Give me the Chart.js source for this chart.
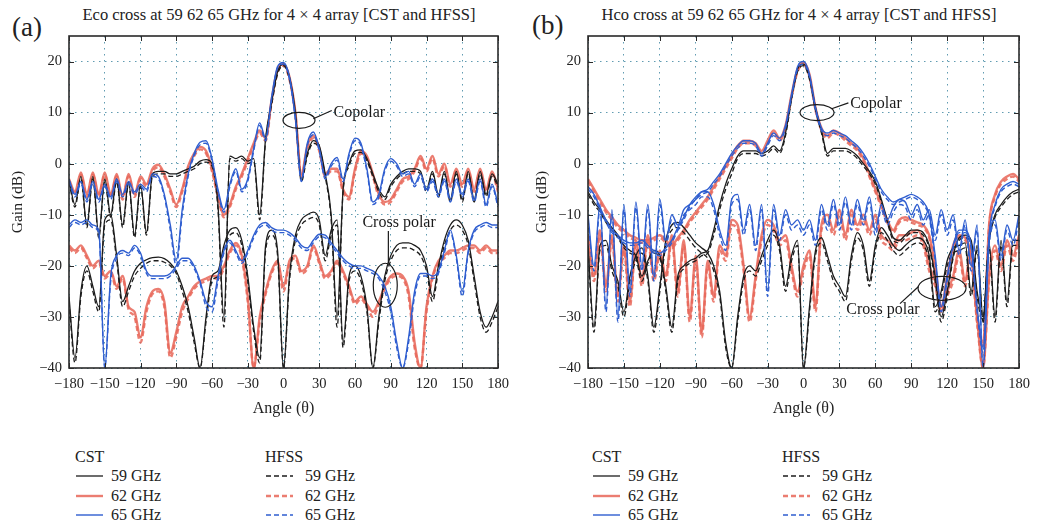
<!DOCTYPE html>
<html>
<head>
<meta charset="utf-8">
<script src="https://cdn.jsdelivr.net/npm/chart.js@4.4.0/dist/chart.umd.min.js"></script>
<style>
  body { margin: 0; background: #fff; width: 1037px; height: 527px; position: relative; overflow: hidden;
         font-family: "Liberation Serif", "DejaVu Serif", serif; color: #222; }
  canvas { position: absolute; top: 0; }
  .title { position: absolute; top: 5px; font-size: 16.5px; white-space: nowrap; transform: translateX(-50%); }
  .tag { position: absolute; font-size: 27px; }
  .lg { position: absolute; font-size: 16px; line-height: 18px; white-space: nowrap; }
  .lg svg { position: absolute; top: 0; }
</style>
</head>
<body>
<div class="tag" style="left:12px;top:12px">(a)</div>
<div class="title" style="left:279px">Eco cross at 59 62 65 GHz for 4 × 4 array [CST and HFSS]</div>
<div class="tag" style="left:532px;top:10px">(b)</div>
<div class="title" style="left:799px">Hco cross at 59 62 65 GHz for 4 × 4 array [CST and HFSS]</div>

<canvas id="chartA" width="518" height="430" style="left:0"></canvas>
<canvas id="chartB" width="517" height="430" style="left:520px"></canvas>

<div id="legendA"></div>
<div id="legendB"></div>

<script>
const ANGLES = [-180, -175, -170, -165, -160, -155, -150, -145, -140, -135,
  -130, -125, -120, -115, -110, -105, -100, -95, -90, -85,
  -80, -75, -70, -65, -60, -55, -50, -45, -40, -35,
  -30, -25, -20, -15, -10, -5, 0, 5, 10, 15,
  20, 25, 30, 35, 40, 45, 50, 55, 60, 65,
  70, 75, 80, 85, 90, 95, 100, 105, 110, 115,
  120, 125, 130, 135, 140, 145, 150, 155, 160, 165,
  170, 175, 180]
const X_TICKS = [-180, -150, -120, -90, -60, -30, 0, 30, 60, 90, 120, 150, 180]
const Y_TICKS = [-40, -30, -20, -10, 0, 10, 20]
const FREQS = ['59 GHz', '62 GHz', '65 GHz']

// (a) Eco, CST
const A_CO59 = [-3, -8, -2.5, -12, -2.5, -14, -3, -10, -3, -12,
  -3.5, -14, -4, -13.5, -2, -1.5, -1.5, -2, -2, -1.5,
  -1, -0.5, 0.5, 0.8, 0, -8, -30, 1.5, 1, 1.5,
  0.5, 1, -10, 5, 12, 18, 19.5, 17, 10, -3,
  2, 4.5, 3.5, -2, -10, -30, -5, 0, 2.5, 2.7,
  1, -2, -5, -6.5, -4, -2.5, -1.5, -1, -1, -1.5,
  -5, -1.5, -6, -1.5, -7, -1.5, -7, -1.5, -7, -1.5,
  -6, -2, -4]
const A_CO62 = [-3, -5.5, -1.7, -6, -1.7, -6, -1.7, -6, -2, -6.5,
  -2, -6, -2.5, -4, -1, -0.2, -2, -5, -8, -5,
  -0.5, 2, 3.3, 2.5, -1, -6, -10, -8, -4.5, -2,
  1, 4, 6.5, 5, 12.5, 18.5, 19.5, 17, 10, -2,
  3.5, 5.5, 3, -2, -1, -1, -5, -6.5, -1, 2.5,
  1.5, -2, -6, -7.5, -7, -5, -3, -2.5, -1, 1.5,
  -1, 1.5, -2, 0, -4, -1, -4, -1, -5, -1,
  -5, -1.5, -5]
const A_CO65 = [-3, -6, -3.5, -7, -3.5, -7, -4, -6.5, -3, -6,
  -3.5, -5.5, -4, -5, -2, -2.5, -6, -12, -19, -9,
  -2, 2, 4.2, 4.5, 1, -5, -9, -4, -1, -5,
  -3, 3, 8, 5, 13, 19, 19.8, 17, 9, -3,
  4, 6.2, 3, -2.5, 0, 1.2, -3, 2, 5, 4,
  -1, -7.5, -6, -1, 1, 0, -2, -1.5, -4, -2,
  -5, -3, -6, -3, -7, -3, -6, -3, -7, -3,
  -8, -4, -8]
const A_X59 = [-26, -38, -25, -20, -24, -28, -11, -10, -18, -27,
  -24, -21, -19.5, -18.8, -18.4, -18.3, -18.6, -19.5, -21, -24,
  -28, -34, -40, -30, -22, -21, -16, -13, -12.5, -15,
  -22, -32, -38, -16, -13, -17, -40, -22, -14, -11,
  -10, -9.5, -11, -18, -13, -11, -35, -22, -20, -22,
  -28, -40, -30, -22, -18, -16, -15.5, -15.5, -16, -17,
  -20, -26, -20, -15, -12, -11, -12, -15, -22, -29,
  -32, -30, -27]
const A_X62 = [-16, -17, -16, -18, -20, -19, -22, -21, -24, -22,
  -28, -29, -34, -28, -25, -24.5, -27, -37, -33, -28,
  -26, -24, -23, -22.5, -22, -22, -20, -17, -15.5, -18,
  -26, -40, -30, -25, -21, -19, -24, -19, -18, -21,
  -20, -16, -19, -22, -21, -19, -21, -24, -27, -26,
  -27.5, -29, -27, -24, -22, -21.5, -22, -25, -35, -40,
  -28, -22, -19, -18, -17, -17, -16.5, -16, -16, -17,
  -16, -17, -17]
const A_X65 = [-12, -11, -11.5, -11, -12, -13, -40, -22, -18, -17,
  -17.5, -16, -17.5, -21, -22, -22, -22, -21.5, -20, -18.5,
  -18.5, -20, -23, -27, -28, -22, -17, -15, -17, -19,
  -17, -14, -12, -11.5, -12.5, -13, -13, -13.5, -14.5, -16,
  -16.5, -15, -13.8, -14, -15.5, -17, -18.5, -19.5, -20, -20,
  -20.5, -21, -22, -24, -28, -35, -40, -34, -25, -21.5,
  -21.5, -22, -21, -17, -13, -18, -25, -17, -13, -12,
  -11.5, -12, -12]

// (a) Eco, HFSS
const A_H59CO = [-3.5, -8.5, -3, -12.5, -3, -14.5, -3.5, -10.5, -3.5, -12.5,
  -4, -14.5, -4.5, -14, -2.5, -2, -2, -2.5, -2.5, -2,
  -1.5, -1, 0, 0.3, -0.5, -9, -32, 1, 0.5, 1,
  0, 0.5, -11, 4.5, 11.5, 17.5, 19.2, 16.5, 9.5, -3.5,
  1.5, 4, 3, -2.5, -11, -32, -5.5, -0.5, 2, 2.2,
  0.5, -2.5, -5.5, -7, -4.5, -3, -2, -1.5, -1.5, -2,
  -5.5, -2, -6.5, -2, -7.5, -2, -7.5, -2, -7.5, -2,
  -6.5, -2.5, -4.5]
const A_H62CO = [-3.5, -6, -2.2, -6.5, -2.2, -6.5, -2.2, -6.5, -2.5, -7,
  -2.5, -6.5, -3, -4.5, -1.5, -0.7, -2.5, -5.5, -8.5, -5.5,
  -1, 1.5, 2.8, 2, -1.5, -6.5, -10.5, -8.5, -5, -2.5,
  0.5, 3.5, 6, 4.5, 12, 18, 19.2, 16.5, 9.5, -2.5,
  3, 5, 2.5, -2.5, -1.5, -1.5, -5.5, -7, -1.5, 2,
  1, -2.5, -6.5, -8, -7.5, -5.5, -3.5, -3, -1.5, 1,
  -1.5, 1, -2.5, -0.5, -4.5, -1.5, -4.5, -1.5, -5.5, -1.5,
  -5.5, -2, -5.5]
const A_H65CO = [-3.5, -6.5, -4, -7.5, -4, -7.5, -4.5, -7, -3.5, -6.5,
  -4, -6, -4.5, -5.5, -2.5, -3, -6.5, -13, -20, -10,
  -2.5, 1.5, 3.7, 4, 0.5, -5.5, -9.5, -4.5, -1.5, -5.5,
  -3.5, 2.5, 7.5, 4.5, 12.5, 18.7, 19.5, 16.5, 8.5, -3.5,
  3.5, 5.7, 2.5, -3, -0.5, 0.7, -3.5, 1.5, 4.5, 3.5,
  -1.5, -8, -6.5, -1.5, 0.5, -0.5, -2.5, -2, -4.5, -2.5,
  -5.5, -3.5, -6.5, -3.5, -7.5, -3.5, -6.5, -3.5, -7.5, -3.5,
  -8.5, -4.5, -8.5]
const A_H59X = [-27, -39, -26, -21, -25, -29, -12, -11, -19, -28,
  -25, -22, -20.5, -19.5, -19, -19, -19.3, -20, -21.5, -25,
  -29, -35, -40, -31, -23, -22, -17, -14, -13.5, -16,
  -23, -33, -39, -17, -14, -18, -40, -23, -15, -12,
  -11, -10.5, -12, -19, -14, -12, -36, -23, -21, -23,
  -29, -40, -31, -23, -19, -17, -16.5, -16.5, -17, -18,
  -21, -27, -21, -16, -13, -12, -13, -16, -23, -30,
  -33, -31, -28]
const A_H62X = [-16.5, -17.5, -16.5, -18.5, -20.5, -19.5, -22.5, -21.5, -24.5, -22.5,
  -28.5, -30, -35, -29, -25.5, -25, -28, -38, -34, -29,
  -26.5, -24.5, -23.5, -23, -22.5, -22.5, -20.5, -17.5, -16, -18.5,
  -27, -40, -31, -25.5, -21.5, -19.5, -25, -19.5, -18.5, -21.5,
  -20.5, -16.5, -19.5, -22.5, -21.5, -19.5, -21.5, -24.5, -27.5, -26.5,
  -28, -30, -27.5, -24.5, -22.5, -22, -22.5, -26, -36, -40,
  -29, -22.5, -19.5, -18.5, -17.5, -17.5, -17, -16.5, -16.5, -17.5,
  -16.5, -17.5, -17.5]
const A_H65X = [-12.5, -11.5, -12, -11.5, -12.5, -13.5, -40, -23, -18.5, -17.5,
  -18, -16.5, -18, -21.5, -22.5, -22.5, -22.5, -22, -20.5, -19,
  -19, -20.5, -23.5, -28, -29, -23, -17.5, -15.5, -17.5, -19.5,
  -17.5, -14.5, -12.5, -12, -13, -13.5, -13.5, -14, -15, -16.5,
  -17, -15.5, -14.3, -14.5, -16, -17.5, -19, -20, -20.5, -20.5,
  -21, -21.5, -22.5, -25, -29, -36, -40, -35, -26, -22,
  -22, -22.5, -21.5, -17.5, -13.5, -18.5, -26, -17.5, -13.5, -12.5,
  -12, -12.5, -12.5]

// (b) Hco, CST
const B_CO59 = [-5.5, -7.5, -9, -11, -12.5, -14, -16, -17, -18, -22,
  -19, -17, -18, -24, -32, -22, -20, -19, -18.5, -17.5,
  -17, -13, -8, -4, -1, 1.5, 2.5, 2.5, 2.5, 2,
  2.5, 3.5, 2.5, 6, 13, 18.5, 19.5, 17, 11, 6.5,
  2, 3, 3, 3, 2.5, 1.5, 0, -1.5, -3.5, -7,
  -11, -14.5, -15, -14, -13, -13, -13.5, -16, -22, -30,
  -25, -18, -14.5, -14, -15, -25, -30, -15, -10, -8,
  -6.5, -5.5, -5]
const B_CO62 = [-3, -5, -7, -9, -10.5, -12, -13, -14, -14.5, -15,
  -15, -14.5, -14, -15, -16, -14.5, -13, -11, -9.5, -8,
  -6.5, -4.5, -2.5, -0.5, 1.5, 3.5, 4.5, 4.5, 4, 2.5,
  4.5, 6.5, 5, 7.5, 13.5, 18.5, 19.8, 17.5, 11, 7,
  5.5, 6.5, 6, 5, 4, 3, 1, -2, -5, -8,
  -11, -13, -11, -10.5, -11, -11.5, -12, -14, -20, -28,
  -22, -16, -14, -14.5, -18, -30, -35, -12, -6, -3.5,
  -2.5, -2, -3]
const B_CO65 = [-4.5, -6, -8.5, -11, -13, -14, -15, -15.5, -15.5, -15,
  -16, -17, -17.5, -16.5, -15, -12.5, -10.5, -8, -6.5, -5.5,
  -5, -3.5, -2, 0, 2, 3.5, 4.5, 4.5, 4, 2,
  4, 6, 5, 7.5, 13.5, 19, 20, 17.5, 11, 7,
  6, 6.5, 6, 5.5, 4.5, 3.5, 2, 0, -2.5, -5,
  -6.5, -7.5, -7, -6.5, -6, -6.5, -7.5, -10, -18, -28,
  -22, -16, -13, -13, -16, -28, -36, -14, -8, -5,
  -4, -3.5, -4]
const B_X59 = [-16, -32, -16, -15, -20, -23, -29, -22, -18, -16.5,
  -22, -32, -24, -15, -12, -11.5, -12.5, -14, -15.5, -16.5,
  -17.5, -20, -25, -35, -40, -30, -22, -20, -21, -18,
  -15, -13, -16, -24, -18, -15, -40, -28, -17, -14.5,
  -18, -22, -24, -26, -18, -13.5, -16, -23, -16, -12.5,
  -14, -16, -17, -16, -15, -14.5, -15, -18, -28, -25,
  -19, -16.5, -16, -15.5, -25, -16, -30, -15.5, -30, -15,
  -27, -15, -15]
const B_X62 = [-14, -22, -13, -24, -14, -26, -16, -27, -15, -23,
  -14, -22, -17, -22, -14, -25, -15, -30, -18, -33,
  -19, -26, -16, -18, -11, -12, -20, -30, -22, -14,
  -11, -12, -15, -14, -20, -25, -20, -17, -28, -12,
  -10, -13, -9, -14, -9, -12, -10, -13, -10, -14,
  -15, -16, -14, -14, -13.5, -13, -15, -20, -23, -28,
  -25, -22, -17, -23, -16, -30, -40, -22, -16, -20,
  -15, -18, -14]
const B_X65 = [-10, -20, -8, -28, -9, -30, -8, -25, -7.5, -20,
  -8, -22, -7, -15, -10, -12, -9, -8, -7, -5.5,
  -5.5, -8, -13, -16, -7, -6, -13, -8, -16, -8,
  -25, -8, -14, -9, -12, -11, -13, -11, -15, -8,
  -12, -7, -12, -6.5, -12, -7, -11, -6.5, -13, -8,
  -11, -8.5, -7, -7.5, -10, -8, -11, -9, -14, -9,
  -13, -10, -17, -11, -20, -12, -40, -15, -11, -18,
  -12, -15, -10]

// (b) Hco, HFSS
const B_H59CO = [-6, -8, -9.5, -11.5, -13, -14.5, -16.5, -17.5, -18.5, -23,
  -19.5, -17.5, -18.5, -25, -33, -23, -20.5, -19.5, -19, -18,
  -17.5, -14, -9, -5, -2, 1, 2, 2, 2, 1.5,
  2, 3, 2, 5.5, 12.5, 18, 19.2, 16.5, 10.5, 6,
  1.5, 2.5, 2.5, 2.5, 2, 1, -0.5, -2, -4, -7.5,
  -11.5, -15, -15.5, -14.5, -13.5, -13.5, -14, -16.5, -23, -31,
  -26, -18.5, -15, -14.5, -15.5, -26, -31, -15.5, -10.5, -8.5,
  -7, -6, -5.5]
const B_H62CO = [-3.5, -5.5, -7.5, -9.5, -11, -12.5, -13.5, -14.5, -15, -15.5,
  -15.5, -15, -14.5, -15.5, -16.5, -15, -13.5, -11.5, -10, -8.5,
  -7, -5, -3, -1, 1, 3, 4, 4, 3.5, 2,
  4, 6, 4.5, 7, 13, 18, 19.3, 17, 10.5, 6.5,
  5, 6, 5.5, 4.5, 3.5, 2.5, 0.5, -2.5, -5.5, -8.5,
  -11.5, -13.5, -11.5, -11, -11.5, -12, -12.5, -14.5, -21, -29,
  -23, -16.5, -14.5, -15, -18.5, -31, -36, -12.5, -6.5, -4,
  -3, -2.5, -3.5]
const B_H65CO = [-5, -6.5, -9, -11.5, -13.5, -14.5, -15.5, -16, -16, -15.5,
  -16.5, -17.5, -18, -17, -15.5, -13, -11, -8.5, -7, -6,
  -5.5, -4, -2.5, -0.5, 1.5, 3, 4, 4, 3.5, 1.5,
  3.5, 5.5, 4.5, 7, 13, 18.5, 19.5, 17, 10.5, 6.5,
  5.5, 6, 5.5, 5, 4, 3, 1.5, -0.5, -3, -5.5,
  -7, -8, -7.5, -7, -6.5, -7, -8, -10.5, -19, -29,
  -23, -16.5, -13.5, -13.5, -16.5, -29, -37, -14.5, -8.5, -5.5,
  -4.5, -4, -4.5]
const B_H59X = [-17, -33, -17, -16, -21, -24, -30, -23, -19, -17.5,
  -23, -33, -25, -16, -13, -12.5, -13.5, -15, -16.5, -17.5,
  -18.5, -21, -26, -36, -40, -31, -23, -21, -22, -19,
  -16, -14, -17, -25, -19, -16, -40, -29, -18, -15.5,
  -19, -23, -25, -27, -19, -14.5, -17, -24, -17, -13.5,
  -15, -17, -18, -17, -16, -15.5, -16, -19, -29, -26,
  -20, -17.5, -17, -16.5, -26, -17, -31, -16.5, -31, -16,
  -28, -16, -16]
const B_H62X = [-15, -23, -14, -25, -15, -27, -17, -28, -16, -24,
  -15, -23, -18, -23, -15, -26, -16, -31, -19, -34,
  -20, -27, -17, -19, -12, -13, -21, -31, -23, -15,
  -12, -13, -16, -15, -21, -26, -21, -18, -29, -13,
  -11, -14, -10, -15, -10, -13, -11, -14, -11, -15,
  -16, -17, -15, -15, -14.5, -14, -16, -21, -24, -29,
  -26, -23, -18, -24, -17, -31, -40, -23, -17, -21,
  -16, -19, -15]
const B_H65X = [-11, -21, -9, -29, -10, -31, -9, -26, -8.5, -21,
  -9, -23, -8, -16, -11, -13, -10, -9, -8, -6.5,
  -6.5, -9, -14, -17, -8, -7, -14, -9, -17, -9,
  -26, -9, -15, -10, -13, -12, -14, -12, -16, -9,
  -13, -8, -13, -7.5, -13, -8, -12, -7.5, -14, -9,
  -12, -9.5, -8, -8.5, -11, -9, -12, -10, -15, -10,
  -14, -11, -18, -12, -21, -13, -40, -16, -12, -19,
  -13, -16, -11]

const FONT = '"Liberation Serif", "DejaVu Serif", serif'
const BLACK = '#1c1c1c'
const RED = 'rgba(232,104,90,0.86)'
const BLUE = '#2f5ed0'
const GRID = 'rgba(80,145,170,0.9)'
const STYLE = { 59: [BLACK, 1.3], 62: [RED, 2.4], 65: [BLUE, 1.4] }

// blue first so it lands on top, red last so it sits underneath
function seriesList(p) {
  const out = []
  ;[65, 59, 62].forEach(f => {
    const [color, width] = STYLE[f]
    out.push({ values: p['CO' + f], color, width, dash: false })
    out.push({ values: p['H' + f + 'CO'], color, width, dash: true })
    out.push({ values: p['X' + f], color, width, dash: false })
    out.push({ values: p['H' + f + 'X'], color, width, dash: true })
  })
  return out
}

const framePlugin = {
  id: 'frame',
  afterDatasetsDraw(chart) {
    const { ctx, chartArea: a, scales: { x, y } } = chart
    ctx.save()
    ctx.strokeStyle = '#2a2a2a'
    ctx.lineWidth = 1
    ctx.beginPath()
    x.ticks.forEach(t => {
      const px = Math.round(x.getPixelForValue(t.value)) + 0.5
      ctx.moveTo(px, a.bottom); ctx.lineTo(px, a.bottom - 5)
      ctx.moveTo(px, a.top); ctx.lineTo(px, a.top + 5)
    })
    y.ticks.forEach(t => {
      const py = Math.round(y.getPixelForValue(t.value)) + 0.5
      ctx.moveTo(a.left, py); ctx.lineTo(a.left + 5, py)
      ctx.moveTo(a.right, py); ctx.lineTo(a.right - 5, py)
    })
    ctx.stroke()
    ctx.lineWidth = 1.6
    ctx.strokeRect(a.left, a.top, a.right - a.left, a.bottom - a.top)
    ctx.restore()
  }
}

function notesPlugin(items) {
  return {
    id: 'notes',
    afterDatasetsDraw(chart) {
      const { ctx, scales: { x, y } } = chart
      ctx.save()
      ctx.strokeStyle = '#1a1a1a'
      ctx.fillStyle = '#1a1a1a'
      ctx.lineWidth = 1.2
      ctx.font = '16px ' + FONT
      ctx.textBaseline = 'middle'
      items.forEach(n => {
        ctx.beginPath()
        ctx.ellipse(x.getPixelForValue(n.cx), y.getPixelForValue(n.cy), n.rx, n.ry, 0, 0, Math.PI * 2)
        ctx.stroke()
        ctx.beginPath()
        ctx.moveTo(x.getPixelForValue(n.leader[0]), y.getPixelForValue(n.leader[1]))
        ctx.lineTo(x.getPixelForValue(n.leader[2]), y.getPixelForValue(n.leader[3]))
        ctx.stroke()
        ctx.textAlign = n.align
        ctx.fillText(n.text, x.getPixelForValue(n.tx), y.getPixelForValue(n.ty))
      })
      ctx.restore()
    }
  }
}

function makeChart(id, p, notes, axisW, padRight, titlePad) {
  const sets = seriesList(p)
  return new Chart(document.getElementById(id), {
    type: 'line',
    data: {
      datasets: sets.map(s => ({
        data: ANGLES.map((a, i) => ({ x: a, y: s.values[i] })),
        borderColor: s.color,
        borderWidth: s.width,
        borderDash: s.dash ? [5, 3] : [],
        pointRadius: 0,
        cubicInterpolationMode: 'monotone',
        fill: false,
      })),
    },
    options: {
      responsive: false,
      animation: false,
      layout: { padding: { left: 0, right: padRight, top: 36, bottom: 0 } },
      plugins: { legend: { display: false }, tooltip: { enabled: false } },
      scales: {
        x: {
          type: 'linear', min: -180, max: 180,
          afterBuildTicks: s => { s.ticks = X_TICKS.map(v => ({ value: v })) },
          afterFit: s => { s.height = 62 },
          ticks: {
            autoSkip: false, maxRotation: 0, padding: 7, color: '#222',
            font: { family: FONT, size: 14.5 },
            callback: v => String(v).replace('-', '\u2212'),
          },
          grid: { color: GRID, lineWidth: 1, drawTicks: false },
          border: { display: false, dash: [1.5, 4.5] },
          title: { display: true, text: 'Angle (\u03b8)', color: '#222', font: { family: FONT, size: 16 }, padding: { top: 0, bottom: 12 } },
        },
        y: {
          min: -40, max: 25,
          afterBuildTicks: s => { s.ticks = Y_TICKS.map(v => ({ value: v })) },
          afterFit: s => { s.width = axisW },
          ticks: {
            padding: 7, color: '#222',
            font: { family: FONT, size: 14.5 },
            callback: v => String(v).replace('-', '\u2212'),
          },
          grid: { color: GRID, lineWidth: 1, drawTicks: false },
          border: { display: false, dash: [1.5, 4.5] },
          title: { display: true, text: 'Gain (dB)', color: '#222', font: { family: FONT, size: 15.5 }, padding: { top: titlePad, bottom: 0 } },
        },
      },
    },
    plugins: [framePlugin, notesPlugin(notes)],
  })
}

const NOTES_A = [
  { cx: 13, cy: 8.5, rx: 16, ry: 8, text: 'Copolar', tx: 42, ty: 10, align: 'left', leader: [25, 8.8, 40.5, 10.4] },
  { cx: 85.4, cy: -23.8, rx: 12, ry: 22, text: 'Cross polar', tx: 97, ty: -11.5, align: 'center', leader: [88, -13.2, 88, -19.5] },
]
const NOTES_B = [
  { cx: 11.3, cy: 10, rx: 17, ry: 8, text: 'Copolar', tx: 39, ty: 11.8, align: 'left', leader: [23.5, 10.75, 37.5, 11.9] },
  { cx: 115.7, cy: -24.4, rx: 24, ry: 12, text: 'Cross polar', tx: 66.4, ty: -28.7, align: 'center', leader: [95.9, -24.1, 80.6, -27.4] },
]

makeChart('chartA', {
  CO59: A_CO59, CO62: A_CO62, CO65: A_CO65, X59: A_X59, X62: A_X62, X65: A_X65,
  H59CO: A_H59CO, H62CO: A_H62CO, H65CO: A_H65CO, H59X: A_H59X, H62X: A_H62X, H65X: A_H65X,
}, NOTES_A, 69, 20, 9)

makeChart('chartB', {
  CO59: B_CO59, CO62: B_CO62, CO65: B_CO65, X59: B_X59, X62: B_X62, X65: B_X65,
  H59CO: B_H59CO, H62CO: B_H62CO, H65CO: B_H65CO, H59X: B_H59X, H62X: B_H62X, H65X: B_H65X,
}, NOTES_B, 68, 18, 13)

// legends below each panel
function buildLegend(id, left) {
  const el = document.getElementById(id)
  const colors = [BLACK, RED, BLUE]
  const widths = [1.3, 2.4, 1.4]
  let html = ''
  ;[['CST', left, false], ['HFSS', left + 190, true]].forEach(([name, x, dashed]) => {
    html += `<div class="lg" style="left:${x}px;top:448px">${name}</div>`
    FREQS.forEach((f, i) => {
      const top = 467 + i * 19.5
      const dash = dashed ? 'stroke-dasharray="5 3"' : ''
      html += `<div class="lg" style="left:${x}px;top:${top}px;width:120px;height:18px">` +
        `<svg width="30" height="18"><line x1="1" y1="9" x2="28" y2="9" stroke="${colors[i]}" stroke-width="${widths[i]}" ${dash}/></svg>` +
        `<span style="position:absolute;left:${dashed ? 40 : 36}px;top:0">${f}</span></div>`
    })
  })
  el.innerHTML = html
}
buildLegend('legendA', 75)
buildLegend('legendB', 592)
</script>
</body>
</html>
